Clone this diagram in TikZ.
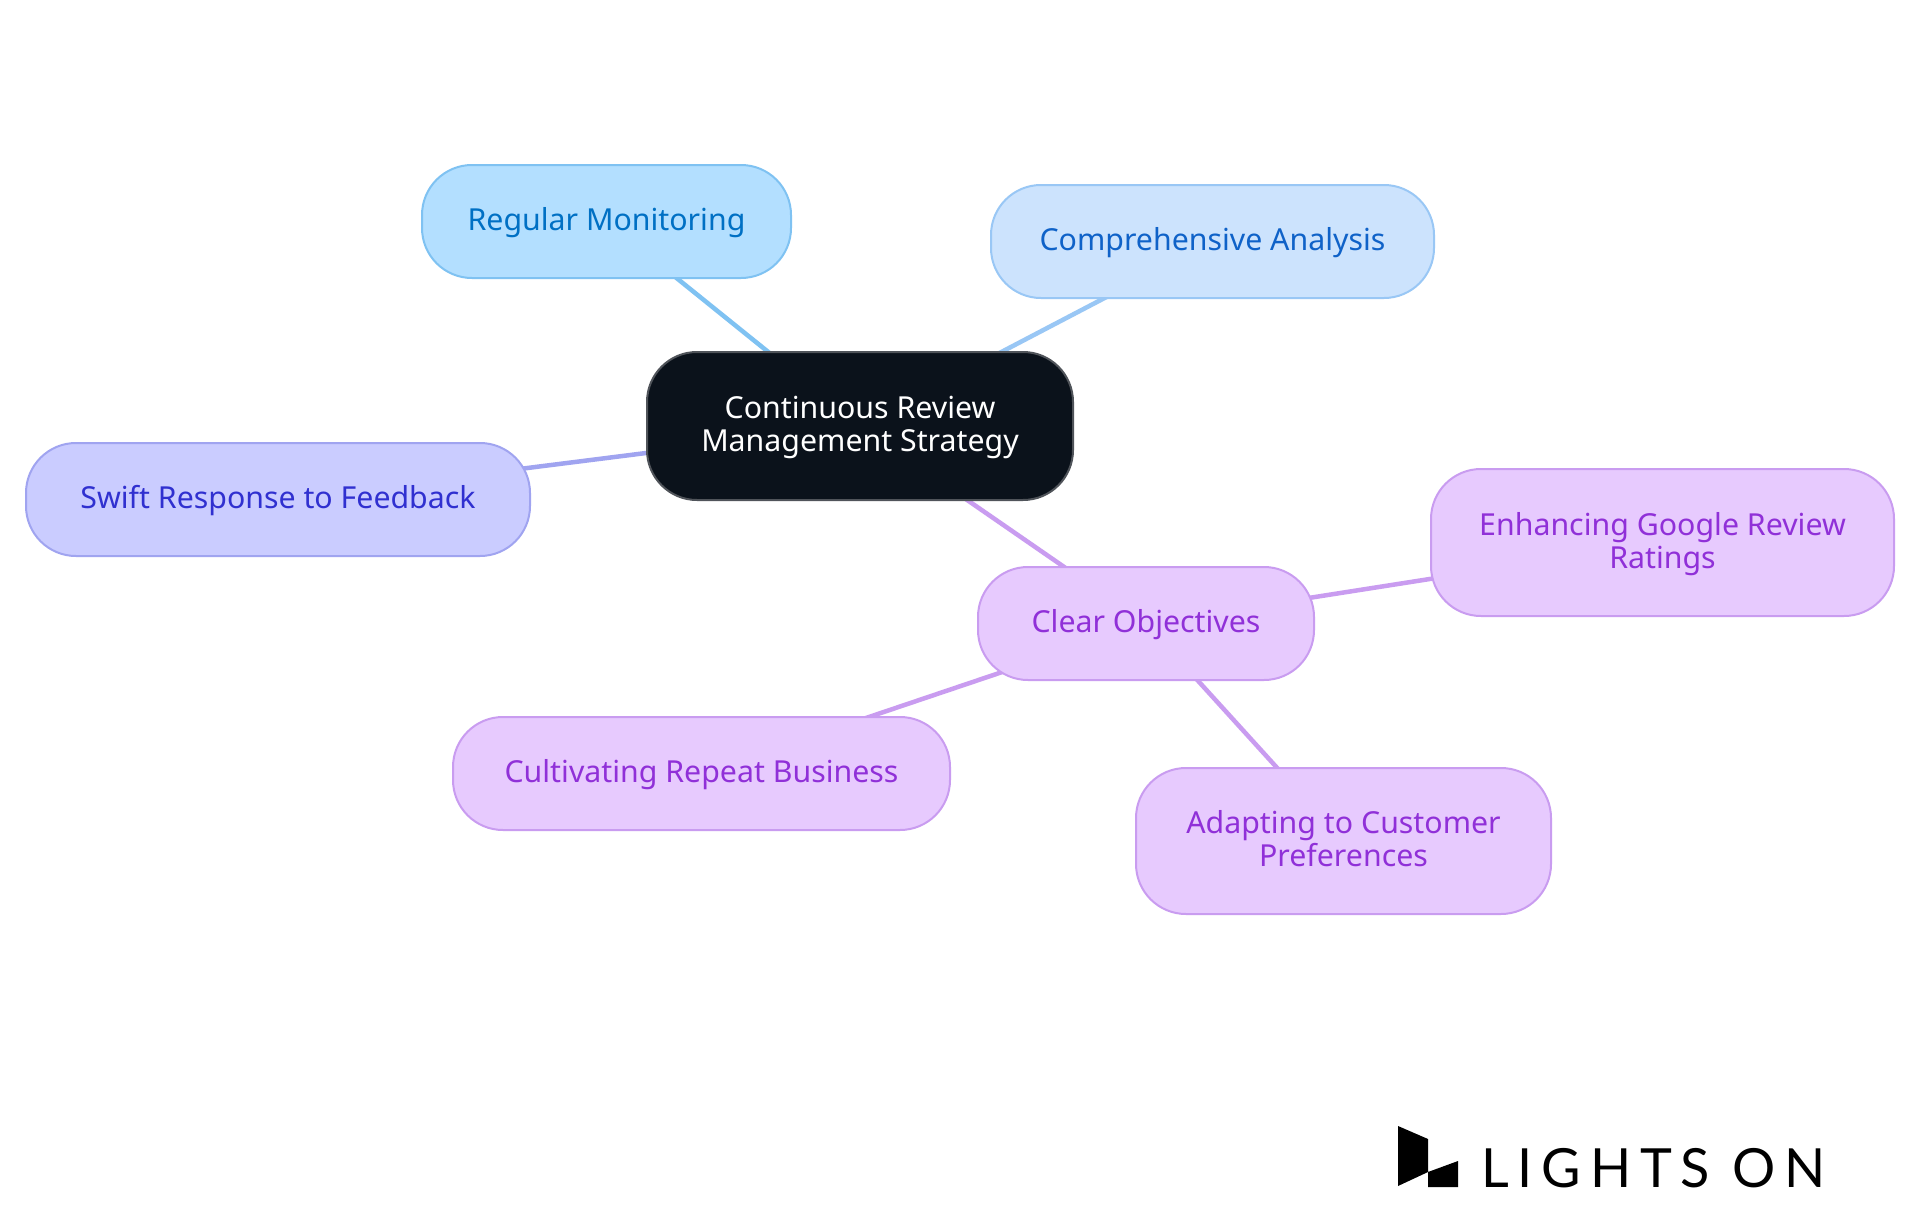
\documentclass[tikz,border=0pt]{standalone}
\usepackage{fontspec}
\setmainfont{Noto Sans}
\newfontfamily\logofont[LetterSpace=16.4]{Lato}
\usetikzlibrary{backgrounds}
\definecolor{rootfill}{HTML}{0B121B}\definecolor{rootline}{HTML}{50545A}
\definecolor{afill}{HTML}{B3DFFF}\definecolor{aline}{HTML}{7FC2F2}\definecolor{atext}{HTML}{0070C4}
\definecolor{bfill}{HTML}{CCE3FD}\definecolor{bline}{HTML}{99C7F5}\definecolor{btext}{HTML}{0F62C8}
\definecolor{cfill}{HTML}{CACCFF}\definecolor{cline}{HTML}{A0A4F0}\definecolor{ctext}{HTML}{3030D0}
\definecolor{dfill}{HTML}{E7CAFE}\definecolor{dline}{HTML}{C99CF0}\definecolor{dtext}{HTML}{9030D8}
\newcommand{\topstrut}{\rule{0pt}{27pt}}
\newcommand{\botstrut}{\rule[-9pt]{0pt}{9pt}}
\tikzset{
 x=1pt,y=-1pt,
 mm/.style={rectangle,rounded corners=50pt,inner sep=0pt,line width=2pt,align=center,
   font=\fontsize{30.3}{33}\selectfont},
 rootnode/.style={mm,fill=rootfill,draw=rootline,text=white},
 anode/.style={mm,fill=afill,draw=aline,text=atext},
 bnode/.style={mm,fill=bfill,draw=bline,text=btext},
 cnode/.style={mm,fill=cfill,draw=cline,text=ctext},
 dnode/.style={mm,fill=dfill,draw=dline,text=dtext},
 link/.style={line width=4.5pt},
}
\newcommand{\place}[7]{\node[#1,minimum width=#6pt-#4pt,minimum height=#7pt-#5pt] (#2) at ({(#4+#6)/2},{(#5+#7)/2}) {\topstrut #3\botstrut};}
\begin{document}
\begin{tikzpicture}
\useasboundingbox (0,0) rectangle (1920,1215);
\place{rootnode}{root}{Continuous Review\\Management Strategy}{647}{352}{1073}{500}
\place{anode}{mon}{Regular Monitoring}{422}{165}{791}{278}
\place{bnode}{ana}{Comprehensive Analysis}{991}{185}{1434}{298}
\place{cnode}{swift}{Swift Response to Feedback}{26}{443}{530}{556}
\place{dnode}{clear}{Clear Objectives}{978}{567}{1314}{680}
\place{dnode}{goog}{Enhancing Google Review\\Ratings}{1431}{469}{1894}{616}
\place{dnode}{cult}{Cultivating Repeat Business}{453}{717}{950}{830}
\place{dnode}{adapt}{Adapting to Customer\\Preferences}{1136}{768}{1551}{914}
\begin{scope}[on background layer]
\fill[white] (0,0) rectangle (1920,1215);
\draw[link,aline] (root.center) -- (mon.center);
\draw[link,bline] (root.center) -- (ana.center);
\draw[link,cline] (root.center) -- (swift.center);
\draw[link,dline] (root.center) -- (clear.center);
\draw[link,dline] (clear.center) -- (goog.center);
\draw[link,dline] (clear.center) -- (cult.center);
\draw[link,dline] (clear.center) -- (adapt.center);
\end{scope}
\fill[black] (1398,1126) -- (1428,1139) -- (1428,1172) -- (1458,1161) -- (1458,1187) -- (1428,1187) -- (1428,1172) -- (1398,1186) -- cycle;
\node[anchor=base west,inner sep=0pt,font=\logofont\fontsize{54}{54}\selectfont,text=black] (logo) at (1481,1187) {LIGHTS ON};
\end{tikzpicture}
\end{document}
